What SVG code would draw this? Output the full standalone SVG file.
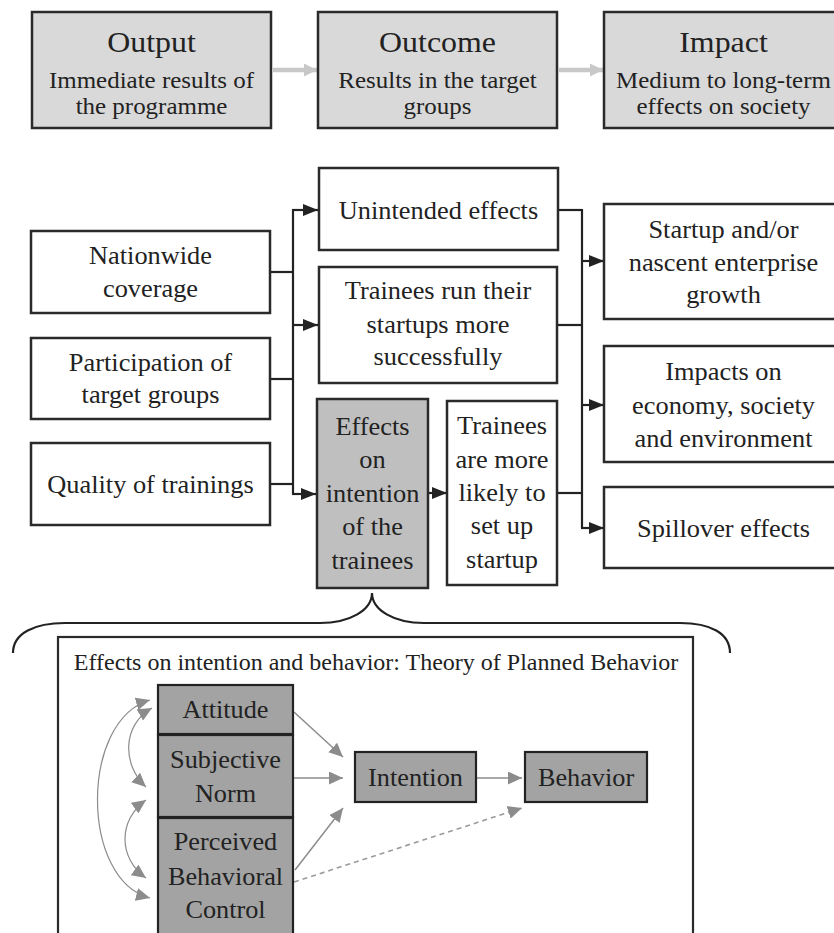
<svg xmlns="http://www.w3.org/2000/svg" width="834" height="933" viewBox="0 0 834 933">
<style>
text{font-family:"Liberation Serif","Times New Roman",serif;fill:#222;text-anchor:middle}
.t1{font-size:29px}
.t2{font-size:24px}
.tm{font-size:25px}
.tb{font-size:26px}
.tt{font-size:24px}
.top{fill:#d9d9d9;stroke:#2a2a2a;stroke-width:2.5}
.wb{fill:#fff;stroke:#2a2a2a;stroke-width:2.5}
.gb{fill:#bfbfbf;stroke:#2a2a2a;stroke-width:2.5}
.db{fill:#a3a3a3;stroke:#222;stroke-width:2.2}
.frame{fill:#fff;stroke:#2a2a2a;stroke-width:2.2}
.blk{fill:none;stroke:#222;stroke-width:2.2}
.ga{fill:none;stroke:#c8c8c8;stroke-width:4.5}
.gr{fill:none;stroke:#8c8c8c;stroke-width:1.5}
.gc{fill:none;stroke:#8c8c8c;stroke-width:1.2}
.dash{fill:none;stroke:#9a9a9a;stroke-width:1.6;stroke-dasharray:5 4}
.brace{fill:none;stroke:#222;stroke-width:2.2}
</style>
<defs>
<marker id="ab" markerUnits="userSpaceOnUse" markerWidth="15" markerHeight="12" refX="15" refY="6" orient="auto"><path d="M0,0 L15,6 L0,12 z" fill="#222"/></marker>
<marker id="ag" markerUnits="userSpaceOnUse" markerWidth="13" markerHeight="13" refX="13" refY="6.5" orient="auto"><path d="M0,0 L13,6.5 L0,13 z" fill="#c8c8c8"/></marker>
<marker id="am" markerUnits="userSpaceOnUse" markerWidth="14" markerHeight="13" refX="14" refY="6.5" orient="auto-start-reverse"><path d="M0,0 L14,6.5 L0,13 z" fill="#8c8c8c"/></marker>
</defs>

<g id="connectors">
<line class="ga" x1="273" y1="70" x2="317" y2="70" marker-end="url(#ag)"/>
<line class="ga" x1="559" y1="70" x2="603" y2="70" marker-end="url(#ag)"/>
<polyline class="blk" points="270,272 293,272"/>
<polyline class="blk" points="270,379 293,379"/>
<polyline class="blk" points="270,484 293,484"/>
<line class="blk" x1="293" y1="209" x2="293" y2="494"/>
<line class="blk" x1="292" y1="210" x2="318" y2="210" marker-end="url(#ab)"/>
<line class="blk" x1="292" y1="325" x2="318" y2="325" marker-end="url(#ab)"/>
<line class="blk" x1="292" y1="494" x2="316" y2="494" marker-end="url(#ab)"/>
<line class="blk" x1="428" y1="493" x2="447" y2="493" marker-end="url(#ab)"/>
<polyline class="blk" points="558,210 582,210"/>
<polyline class="blk" points="557,325 582,325"/>
<polyline class="blk" points="557,493 582,493"/>
<line class="blk" x1="582" y1="209" x2="582" y2="528"/>
<line class="blk" x1="581" y1="261" x2="604" y2="261" marker-end="url(#ab)"/>
<line class="blk" x1="581" y1="405" x2="604" y2="405" marker-end="url(#ab)"/>
<line class="blk" x1="581" y1="528" x2="604" y2="528" marker-end="url(#ab)"/>
</g>

<g id="output"><rect class="top" x="32" y="12" width="239" height="116"/>
<text class="t1" transform="translate(151.5 52) scale(1.1 1)">Output</text>
<text class="t2" transform="translate(151.5 88) scale(1.04 1)">Immediate results of</text>
<text class="t2" transform="translate(151.5 114) scale(1.04 1)">the programme</text></g>
<g id="outcome"><rect class="top" x="318" y="12" width="239" height="116"/>
<text class="t1" transform="translate(437.5 52) scale(1.1 1)">Outcome</text>
<text class="t2" transform="translate(437.5 88) scale(1.04 1)">Results in the target</text>
<text class="t2" transform="translate(437.5 114) scale(1.04 1)">groups</text></g>
<g id="impact"><rect class="top" x="604" y="12" width="239" height="116"/>
<text class="t1" transform="translate(723.5 52) scale(1.1 1)">Impact</text>
<text class="t2" transform="translate(723.5 88) scale(1.04 1)">Medium to long-term</text>
<text class="t2" transform="translate(723.5 114) scale(1.04 1)">effects on society</text></g>

<g id="nationwide"><rect class="wb" x="31" y="231" width="239" height="82"/>
<text class="tm" transform="translate(150.5 264) scale(1.055 1)">Nationwide</text>
<text class="tm" transform="translate(150.5 297) scale(1.055 1)">coverage</text></g>
<g id="participation"><rect class="wb" x="31" y="338" width="239" height="81"/>
<text class="tm" transform="translate(150.5 371) scale(1.055 1)">Participation of</text>
<text class="tm" transform="translate(150.5 403) scale(1.055 1)">target groups</text></g>
<g id="quality"><rect class="wb" x="31" y="443" width="239" height="82"/>
<text class="tm" transform="translate(150.5 493) scale(1.055 1)">Quality of trainings</text></g>

<g id="unintended"><rect class="wb" x="319" y="168" width="239" height="82"/>
<text class="tm" transform="translate(438.5 219) scale(1.055 1)">Unintended effects</text></g>
<g id="trainees-run"><rect class="wb" x="319" y="267" width="238" height="116"/>
<text class="tm" transform="translate(438 299) scale(1.055 1)">Trainees run their</text>
<text class="tm" transform="translate(438 333) scale(1.055 1)">startups more</text>
<text class="tm" transform="translate(438 365) scale(1.055 1)">successfully</text></g>
<g id="effects-intention"><rect class="gb" x="317" y="399" width="111" height="189"/>
<text class="tm" transform="translate(372.5 435) scale(1.055 1)">Effects</text>
<text class="tm" transform="translate(372.5 468) scale(1.055 1)">on</text>
<text class="tm" transform="translate(372.5 502) scale(1.055 1)">intention</text>
<text class="tm" transform="translate(372.5 535) scale(1.055 1)">of the</text>
<text class="tm" transform="translate(372.5 569) scale(1.055 1)">trainees</text></g>
<g id="trainees-likely"><rect class="wb" x="447" y="401" width="110" height="184"/>
<text class="tm" transform="translate(502 434) scale(1.055 1)">Trainees</text>
<text class="tm" transform="translate(502 468) scale(1.055 1)">are more</text>
<text class="tm" transform="translate(502 501) scale(1.055 1)">likely to</text>
<text class="tm" transform="translate(502 534) scale(1.055 1)">set up</text>
<text class="tm" transform="translate(502 568) scale(1.055 1)">startup</text></g>

<g id="startup-growth"><rect class="wb" x="604" y="204" width="239" height="115"/>
<text class="tm" transform="translate(723.5 238) scale(1.055 1)">Startup and/or</text>
<text class="tm" transform="translate(723.5 271) scale(1.055 1)">nascent enterprise</text>
<text class="tm" transform="translate(723.5 303) scale(1.055 1)">growth</text></g>
<g id="impacts-economy"><rect class="wb" x="604" y="346" width="239" height="116"/>
<text class="tm" transform="translate(723.5 380) scale(1.055 1)">Impacts on</text>
<text class="tm" transform="translate(723.5 414) scale(1.055 1)">economy, society</text>
<text class="tm" transform="translate(723.5 447) scale(1.055 1)">and environment</text></g>
<g id="spillover"><rect class="wb" x="604" y="487" width="239" height="81"/>
<text class="tm" transform="translate(723.5 537) scale(1.055 1)">Spillover effects</text></g>

<path id="brace" class="brace" d="M13,653 C13,633 35,623 65,623 L320,623 C350,623 372,610 372,593 C372,610 394,623 424,623 L680,623 C710,623 730,633 730,653"/>

<g id="tpb-frame"><rect class="frame" x="58" y="637" width="635" height="310"/>
<text class="tt" transform="translate(376 670) scale(1.0 1)">Effects on intention and behavior: Theory of Planned Behavior</text></g>

<g id="tpb-connectors">
<line class="gr" x1="294" y1="712" x2="343" y2="757" marker-end="url(#am)"/>
<line class="gr" x1="294" y1="778" x2="343" y2="778" marker-end="url(#am)"/>
<line class="gr" x1="295" y1="870" x2="343" y2="808" marker-end="url(#am)"/>
<line class="gr" x1="477" y1="778" x2="522" y2="778" marker-end="url(#am)"/>
<line class="dash" x1="294" y1="882" x2="522" y2="808" marker-end="url(#am)"/>
<path class="gc" d="M150,700 C80,720 80,880 150,898" marker-start="url(#am)" marker-end="url(#am)"/>
<path class="gc" d="M152,708 C122,725 122,765 146,787" marker-start="url(#am)" marker-end="url(#am)"/>
<path class="gc" d="M146,800 C118,820 118,858 146,878" marker-start="url(#am)" marker-end="url(#am)"/>
</g>

<g id="attitude"><rect class="db" x="158" y="685" width="135" height="49"/>
<text class="tb" transform="translate(225.5 718) scale(1.01 1)">Attitude</text></g>
<g id="subjective-norm"><rect class="db" x="158" y="735" width="135" height="82"/>
<text class="tb" transform="translate(225.5 768) scale(1.01 1)">Subjective</text>
<text class="tb" transform="translate(225.5 802) scale(1.01 1)">Norm</text></g>
<g id="pbc"><rect class="db" x="158" y="818" width="135" height="125"/>
<text class="tb" transform="translate(225.5 850) scale(1.01 1)">Perceived</text>
<text class="tb" transform="translate(225.5 885) scale(1.01 1)">Behavioral</text>
<text class="tb" transform="translate(225.5 918) scale(1.01 1)">Control</text></g>
<g id="intention"><rect class="db" x="355" y="752" width="121" height="50"/>
<text class="tb" transform="translate(415.5 786) scale(1.01 1)">Intention</text></g>
<g id="behavior"><rect class="db" x="525" y="752" width="122" height="50"/>
<text class="tb" transform="translate(586 786) scale(1.01 1)">Behavior</text></g>
</svg>
